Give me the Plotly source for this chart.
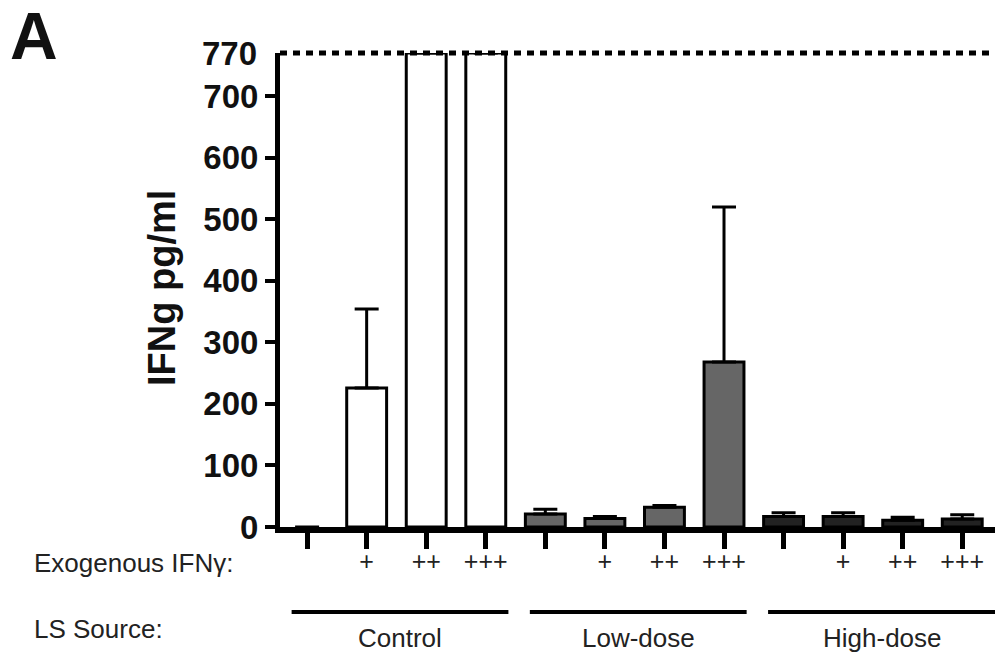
import plotly.graph_objects as go

# ---- data ----
groups = ["Control", "Low-dose", "High-dose"]
ifn_levels = ["", "+", "++", "+++"]
values = [0, 226, 770, 770, 21, 14, 32, 268, 17, 17, 11, 13]
err_upper = [None, 128, None, None, 8, 3, 3, 252, 6, 6, 5, 7]
group_colors = ["#ffffff", "#666666", "#222222"]
y_ticks = [0, 100, 200, 300, 400, 500, 600, 700]
y_max = 770

W, H = 998, 655
L, R, T, B = 280, 995, 53, 527  # plot area in px


def px(x):
    return (x - L) / (R - L)


def py(y):
    return (H - y - (H - B)) / (B - T)


fig = go.Figure()
n_per = len(ifn_levels)
for g, name in enumerate(groups):
    xs = [g * n_per + i for i in range(n_per)]
    vs = values[g * n_per:(g + 1) * n_per]
    es = err_upper[g * n_per:(g + 1) * n_per]
    fig.add_trace(go.Bar(
        x=xs, y=vs, width=0.67,
        marker=dict(color=group_colors[g],
                    opacity=[0 if v == 0 else 1 for v in vs],
                    line=dict(color="black", width=[0 if v == 0 else 3 for v in vs])),
        error_y=dict(type="data", array=es, symmetric=False,
                     arrayminus=[0] * n_per, color="black", thickness=3, width=12),
        showlegend=False,
    ))

all_x = list(range(len(values)))
fig.update_layout(
    width=W, height=H,
    margin=dict(l=L, r=W - R, t=T, b=H - B),
    plot_bgcolor="white", paper_bgcolor="white",
    barmode="overlay",
    font=dict(family="Liberation Sans, Arial", color="#111"),
    xaxis=dict(
        range=[-0.455, 11.55], tickvals=all_x, ticktext=ifn_levels * len(groups),
        showline=True, linecolor="black", linewidth=6,
        ticks="outside", ticklen=16, tickwidth=5, tickcolor="black",
        showgrid=False, zeroline=False, fixedrange=True,
        tickfont=dict(size=25, color="#222"), ticklabelstandoff=-9,
    ),
    yaxis=dict(
        range=[0, y_max], tickvals=y_ticks,
        showline=True, linecolor="black", linewidth=5,
        ticks="outside", ticklen=10, tickwidth=4, tickcolor="black",
        showgrid=False, zeroline=False,
        tickfont=dict(size=33, weight="bold", color="#111"),
    ),
)

# dashed ceiling line at the axis maximum
fig.add_shape(type="line", xref="paper", yref="paper", x0=0, x1=1, y0=1, y1=1,
              line=dict(color="black", width=5, dash="7px,6px"))

# top tick label (no tick mark)
fig.add_annotation(x=px(259), y=y_max, xref="paper", yref="y", text=str(y_max),
                   showarrow=False, xanchor="right", yanchor="middle",
                   font=dict(size=33, weight="bold", color="#111"))

# y title
fig.add_annotation(x=px(162), y=py(288), xref="paper", yref="paper", text="IFNg pg/ml",
                   textangle=-90, showarrow=False, xanchor="center", yanchor="middle",
                   font=dict(size=38, weight="bold", color="#111"))

# panel letter
fig.add_annotation(x=px(8), y=py(36), xref="paper", yref="paper", text="A",
                   showarrow=False, xanchor="left", yanchor="middle",
                   font=dict(size=66, weight="bold", color="#111"))

# row labels
fig.add_annotation(x=px(32), y=py(563), xref="paper", yref="paper", text="Exogenous IFNγ:",
                   showarrow=False, xanchor="left", yanchor="middle",
                   font=dict(size=26, color="#222"))
fig.add_annotation(x=px(32), y=py(629), xref="paper", yref="paper", text="LS Source:",
                   showarrow=False, xanchor="left", yanchor="middle",
                   font=dict(size=26, color="#222"))

# group lines and labels
for g, name in enumerate(groups):
    x0 = g * n_per - 0.26
    x1 = g * n_per + 3.38 + (0.2 if g == len(groups) - 1 else 0)
    fig.add_shape(type="line", xref="x", yref="paper", x0=x0, x1=x1,
                  y0=py(612), y1=py(612), line=dict(color="black", width=4))
    fig.add_annotation(x=(x0 + x1) / 2, y=py(638), xref="x", yref="paper", text=name,
                       showarrow=False, xanchor="center", yanchor="middle",
                       font=dict(size=26, color="#222"))

fig.write_html("out.html")
